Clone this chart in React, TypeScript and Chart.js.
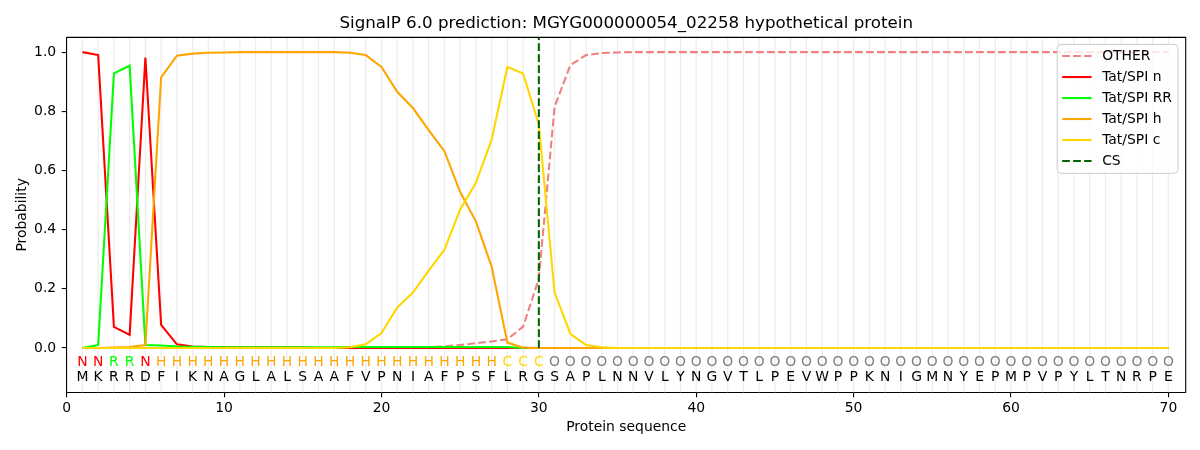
import { useEffect, useRef } from 'react';
import { Chart, registerables } from 'chart.js';

Chart.register(...registerables);

const FONT = "'DejaVu Sans', 'Liberation Sans', sans-serif";

const titleText = 'SignalP 6.0 prediction: MGYG000000054_02258 hypothetical protein';

const sequence = 'MKRRDFIKNAGLALSAAFVPNIAFPSFLRGSAPLNNVLYNGVTLPEVWPPKNIGMNYEPMPVPYLTNRPE'.split('');
const regionLabels = 'NNRRNHHHHHHHHHHHHHHHHHHHHHHCCCOOOOOOOOOOOOOOOOOOOOOOOOOOOOOOOOOOOOOOOO'.split('');
const positions = sequence.map((_, i) => i + 1);

const xTicks = [0, 10, 20, 30, 40, 50, 60, 70];
const yTicks = [0, 0.2, 0.4, 0.6, 0.8, 1.0];
const csPosition = 30;

const otherProb = [
  0, 0, 0, 0, 0, 0, 0, 0, 0, 0,
  0, 0, 0, 0, 0, 0, 0, 0, 0, 0,
  0.001, 0.002, 0.003, 0.005, 0.01, 0.016, 0.022, 0.029, 0.072, 0.235,
  0.815, 0.956, 0.99, 0.997, 0.999, 1, 1, 1, 1, 1,
  1, 1, 1, 1, 1, 1, 1, 1, 1, 1,
  1, 1, 1, 1, 1, 1, 1, 1, 1, 1,
  1, 1, 1, 1, 1, 1, 1, 1, 1, 1,
];
const nProb = [
  1.0, 0.99, 0.071, 0.044, 0.982, 0.078, 0.012, 0.005, 0.003, 0.002,
  0.001, 0.001, 0.001, 0.001, 0.001, 0, 0, 0, 0, 0,
  0, 0, 0, 0, 0, 0, 0, 0, 0, 0,
  0, 0, 0, 0, 0, 0, 0, 0, 0, 0,
  0, 0, 0, 0, 0, 0, 0, 0, 0, 0,
  0, 0, 0, 0, 0, 0, 0, 0, 0, 0,
  0, 0, 0, 0, 0, 0, 0, 0, 0, 0,
];
const rrProb = [
  0, 0.01, 0.928, 0.954, 0.01, 0.008, 0.005, 0.004, 0.003, 0.002,
  0.002, 0.002, 0.002, 0.002, 0.002, 0.002, 0.002, 0.003, 0.003, 0.003,
  0.003, 0.003, 0.003, 0.003, 0.003, 0.003, 0.003, 0.003, 0, 0,
  0, 0, 0, 0, 0, 0, 0, 0, 0, 0,
  0, 0, 0, 0, 0, 0, 0, 0, 0, 0,
  0, 0, 0, 0, 0, 0, 0, 0, 0, 0,
  0, 0, 0, 0, 0, 0, 0, 0, 0, 0,
];
const hProb = [
  0, 0, 0.001, 0.003, 0.01, 0.915, 0.988, 0.995, 0.998, 0.999,
  1, 1, 1, 1, 1, 1, 1, 0.998, 0.99, 0.95,
  0.866, 0.811, 0.736, 0.665, 0.527, 0.428, 0.275, 0.018, 0.001, 0,
  0, 0, 0, 0, 0, 0, 0, 0, 0, 0,
  0, 0, 0, 0, 0, 0, 0, 0, 0, 0,
  0, 0, 0, 0, 0, 0, 0, 0, 0, 0,
  0, 0, 0, 0, 0, 0, 0, 0, 0, 0,
];
const cProb = [
  0, 0, 0, 0, 0, 0, 0, 0, 0, 0,
  0, 0, 0, 0, 0, 0, 0, 0.002, 0.012, 0.05,
  0.137, 0.187, 0.261, 0.332, 0.468, 0.558, 0.704, 0.95, 0.928, 0.755,
  0.187, 0.048, 0.01, 0.002, 0, 0, 0, 0, 0, 0,
  0, 0, 0, 0, 0, 0, 0, 0, 0, 0,
  0, 0, 0, 0, 0, 0, 0, 0, 0, 0,
  0, 0, 0, 0, 0, 0, 0, 0, 0, 0,
];

const labelColors: Record<string, string> = {
  N: '#ff0000',
  R: '#00ff00',
  H: '#ffa500',
  C: '#ffd700',
  O: '#808080',
};

const LW = 2.08;
const DASH = [7.7, 3.3];

const toPoints = (vals: number[]) => vals.map((y, i) => ({ x: positions[i], y }));

const gridPlugin = {
  id: 'residueGrid',
  beforeDatasetsDraw(chart: any) {
    const { ctx, chartArea } = chart;
    const xs = chart.scales.x;
    ctx.save();
    ctx.strokeStyle = '#ececec';
    ctx.lineWidth = 1.2;
    positions.forEach((p) => {
      const px = xs.getPixelForValue(p);
      ctx.beginPath();
      ctx.moveTo(px, chartArea.top);
      ctx.lineTo(px, chartArea.bottom);
      ctx.stroke();
    });
    ctx.restore();
  },
};

const lettersPlugin = {
  id: 'residueLetters',
  afterDatasetsDraw(chart: any) {
    const { ctx } = chart;
    const xs = chart.scales.x;
    const ys = chart.scales.y;
    ctx.save();
    ctx.font = `13.9px ${FONT}`;
    ctx.textAlign = 'center';
    ctx.textBaseline = 'middle';
    const yTop = ys.getPixelForValue(-0.05);
    const yBot = ys.getPixelForValue(-0.1);
    positions.forEach((p, i) => {
      const px = xs.getPixelForValue(p);
      ctx.fillStyle = labelColors[regionLabels[i]] || '#000';
      ctx.fillText(regionLabels[i], px, yTop);
      ctx.fillStyle = '#000';
      ctx.fillText(sequence[i], px, yBot);
    });
    ctx.restore();
  },
};

const framePlugin = {
  id: 'frame',
  afterDatasetsDraw(chart: any) {
    const { ctx, chartArea } = chart;
    ctx.save();
    ctx.strokeStyle = '#000';
    ctx.lineWidth = 1.1;
    ctx.beginPath();
    ctx.moveTo(chartArea.left, chartArea.top);
    ctx.lineTo(chartArea.right, chartArea.top);
    ctx.lineTo(chartArea.right, chartArea.bottom);
    ctx.stroke();
    ctx.restore();
  },
};

const legendPlugin = {
  id: 'mplLegend',
  afterDraw(chart: any) {
    const { ctx, chartArea } = chart;
    const datasets = chart.data.datasets;
    ctx.save();
    ctx.font = `13.9px ${FONT}`;
    let maxW = 0;
    datasets.forEach((d: any) => {
      maxW = Math.max(maxW, ctx.measureText(d.label).width);
    });
    const rowH = 21;
    const boxW = 45 + maxW + 6;
    const boxH = 11.7 * 2 + rowH * (datasets.length - 1) + 0.6;
    const bx = chartArea.right - 7.7 - boxW;
    const by = chartArea.top + 7;
    ctx.beginPath();
    ctx.roundRect(bx, by, boxW, boxH, 4);
    ctx.fillStyle = 'rgba(255,255,255,0.8)';
    ctx.fill();
    ctx.strokeStyle = '#cccccc';
    ctx.lineWidth = 1;
    ctx.stroke();
    datasets.forEach((d: any, i: number) => {
      const cy = by + 11.7 + i * rowH;
      ctx.beginPath();
      ctx.setLineDash(d.borderDash || []);
      ctx.strokeStyle = d.borderColor;
      ctx.lineWidth = LW;
      ctx.moveTo(bx + 5, cy);
      ctx.lineTo(bx + 34.4, cy);
      ctx.stroke();
      ctx.setLineDash([]);
      ctx.fillStyle = '#000';
      ctx.textAlign = 'left';
      ctx.textBaseline = 'middle';
      ctx.fillText(d.label, bx + 45, cy);
    });
    ctx.restore();
  },
};

export default function App() {
  const canvasRef = useRef<HTMLCanvasElement | null>(null);

  useEffect(() => {
    document.body.style.margin = '0';
    const canvas = canvasRef.current;
    if (!canvas) return;
    const lineDs = (label: string, vals: number[], color: string, order: number, dash?: number[]) => ({
      label,
      data: toPoints(vals),
      borderColor: color,
      backgroundColor: color,
      borderWidth: LW,
      borderDash: dash,
      pointRadius: 0,
      tension: 0,
      fill: false,
      order,
    });
    const chart = new Chart(canvas, {
      type: 'line',
      data: {
        datasets: [
          lineDs('OTHER', otherProb, '#f08080', 6, DASH),
          lineDs('Tat/SPI n', nProb, '#ff0000', 5),
          lineDs('Tat/SPI RR', rrProb, '#00ff00', 4),
          lineDs('Tat/SPI h', hProb, '#ffa500', 3),
          lineDs('Tat/SPI c', cProb, '#ffd700', 2),
          {
            label: 'CS',
            data: [
              { x: csPosition, y: 0 },
              { x: csPosition, y: 1.05 },
            ],
            borderColor: '#006400',
            backgroundColor: '#006400',
            borderWidth: LW,
            borderDash: DASH,
            pointRadius: 0,
            fill: false,
            order: 1,
          },
        ] as any,
      },
      options: {
        animation: false,
        responsive: false,
        devicePixelRatio: 1,
        layout: { padding: { top: 0, left: 0, right: 14.3, bottom: 0 } },
        plugins: {
          legend: { display: false },
          tooltip: { enabled: false },
          title: {
            display: true,
            text: titleText,
            fullSize: false,
            color: '#000',
            font: { family: FONT, size: 16.7, weight: 'normal', lineHeight: 1.2 },
            padding: { top: 13.5, bottom: 3.8 },
          },
        },
        scales: {
          x: {
            type: 'linear',
            min: 0,
            max: 71.1,
            afterBuildTicks: (s: any) => {
              s.ticks = xTicks.map((v) => ({ value: v }));
            },
            afterFit: (s: any) => {
              s.height = 57.7;
            },
            ticks: {
              color: '#000',
              font: { family: FONT, size: 13.9 },
              padding: 3,
              maxRotation: 0,
              autoSkip: false,
              callback: (v: any) => String(v),
            },
            grid: { drawOnChartArea: false, drawTicks: true, tickLength: 5, color: '#000', lineWidth: 1.1 },
            border: { display: true, color: '#000', width: 1.1 },
            title: {
              display: true,
              text: 'Protein sequence',
              color: '#000',
              font: { family: FONT, size: 13.9, lineHeight: 1.2 },
              padding: { top: 0, bottom: 14.2 },
            },
          },
          y: {
            type: 'linear',
            min: -0.15,
            max: 1.05,
            afterBuildTicks: (s: any) => {
              s.ticks = yTicks.map((v) => ({ value: v }));
            },
            afterFit: (s: any) => {
              s.width = 66.7;
            },
            ticks: {
              color: '#000',
              font: { family: FONT, size: 13.9 },
              padding: 5.5,
              callback: (v: any) => Number(v).toFixed(1),
            },
            grid: { drawOnChartArea: false, drawTicks: true, tickLength: 5, color: '#000', lineWidth: 1.1 },
            border: { display: true, color: '#000', width: 1.1 },
            title: {
              display: true,
              text: 'Probability',
              color: '#000',
              font: { family: FONT, size: 13.9, lineHeight: 1.2 },
              padding: { top: 13.7, bottom: 0 },
            },
          },
        },
      } as any,
      plugins: [gridPlugin, lettersPlugin, framePlugin, legendPlugin],
    });
    return () => chart.destroy();
  }, []);

  return (
    <div style={{ width: 1200, height: 450 }}>
      <canvas ref={canvasRef} width={1200} height={450} style={{ display: 'block' }} />
    </div>
  );
}
